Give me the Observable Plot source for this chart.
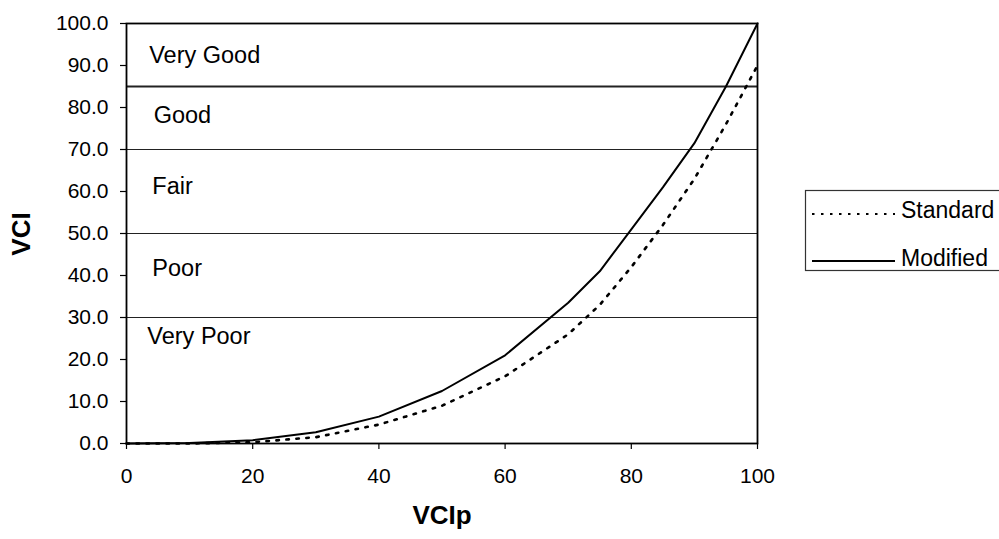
<!DOCTYPE html>
<html>
<head>
<meta charset="utf-8">
<script src="https://cdn.jsdelivr.net/npm/d3@7"></script>
<script src="https://cdn.jsdelivr.net/npm/@observablehq/plot@0.6"></script>
<style>
  html, body { margin: 0; padding: 0; background: #fff; overflow: hidden; }
  #chart { width: 999px; height: 539px; }
</style>
</head>
<body>
<div id="chart"></div>
<script>
// VCIp input values and the two VCI transfer curves
const vcip = [0, 10, 20, 30, 40, 50, 60, 70, 75, 80, 85, 90, 95, 100];
const standardVci = [0, 0, 0.3, 1.5, 4.5, 9, 16, 26, 33, 42, 52, 63, 76, 90];
const modifiedVci = [0, 0.1, 0.8, 2.7, 6.4, 12.5, 21, 33.5, 41, 51, 61, 71.5, 85, 100];

// Condition category boundaries and labels
const bandBounds = [30, 50, 70, 85];
const bandNames = ["Very Good", "Good", "Fair", "Poor", "Very Poor"];
const bandLabelX = [3.6, 4.3, 4.1, 4.1, 3.3];
const bandLabelY = [90.7, 76.2, 59.5, 39.8, 23.6];

const xTicks = [0, 20, 40, 60, 80, 100];
const yTicks = [0, 10, 20, 30, 40, 50, 60, 70, 80, 90, 100];

const seriesNames = ["Standard", "Modified"];
const xLabel = "VCIp";
const yLabel = "VCI";

const standardRows = vcip.map((x, i) => ({x, y: standardVci[i]}));
const modifiedRows = vcip.map((x, i) => ({x, y: modifiedVci[i]}));
const bandRows = bandNames.map((name, i) => ({name, x: bandLabelX[i], y: bandLabelY[i]}));

const font = "'Liberation Sans', Arial, sans-serif";

const chart = Plot.plot({
  width: 999,
  height: 539,
  marginLeft: 126,
  marginRight: 242,
  marginTop: 23,
  marginBottom: 96,
  style: {fontFamily: font, fontSize: "21px", color: "#000", background: "#fff"},
  x: {domain: [0, 100]},
  y: {domain: [0, 100]},
  marks: [
    Plot.ruleY(bandBounds, {stroke: "#222", strokeWidth: d => d === 85 ? 1.8 : 1}),
    Plot.axisX(xTicks, {tickSize: 6, tickPadding: 19, label: null, strokeWidth: 1.2}),
    Plot.axisY(yTicks, {tickSize: 6, tickPadding: 12, label: null, tickFormat: d => d.toFixed(1), strokeWidth: 1.2}),
    Plot.text(bandRows, {x: "x", y: "y", text: "name", textAnchor: "start", lineAnchor: "bottom", fontSize: 23.5, fill: "#000"}),
    Plot.line(standardRows, {x: "x", y: "y", stroke: "#000", strokeWidth: 2.6, strokeDasharray: "2.5,7.5"}),
    Plot.line(modifiedRows, {x: "x", y: "y", stroke: "#000", strokeWidth: 2}),
    Plot.frame({stroke: "#000", strokeWidth: 1.8}),
    Plot.text([xLabel], {frameAnchor: "bottom", dy: 80, fontWeight: "bold", fontSize: 26, fill: "#000"})
  ]
});

document.getElementById("chart").appendChild(chart);

const svg = d3.select(chart);

// Rotated y-axis title
svg.append("text")
  .attr("transform", "translate(30,234) rotate(-90)")
  .attr("text-anchor", "middle")
  .attr("font-family", font).attr("font-size", 26).attr("font-weight", "bold")
  .attr("fill", "#000")
  .text(yLabel);

// Legend box to the right of the plot
const legend = svg.append("g").attr("font-family", font).attr("font-size", 23).attr("text-anchor", "start");
legend.append("rect")
  .attr("x", 805.5).attr("y", 190.5).attr("width", 230).attr("height", 80)
  .attr("fill", "#fff").attr("stroke", "#333").attr("stroke-width", 1.2);
const legendRows = [
  {name: seriesNames[0], dash: "2.5,6.5", width: 2.2, ly: 214, base: 218},
  {name: seriesNames[1], dash: null, width: 2, ly: 261, base: 266}
];
legendRows.forEach(r => {
  legend.append("line")
    .attr("x1", 812).attr("x2", 895).attr("y1", r.ly).attr("y2", r.ly)
    .attr("stroke", "#000").attr("stroke-width", r.width)
    .attr("stroke-dasharray", r.dash);
  legend.append("text")
    .attr("x", 901).attr("y", r.base).attr("fill", "#000")
    .text(r.name);
});
</script>
</body>
</html>
